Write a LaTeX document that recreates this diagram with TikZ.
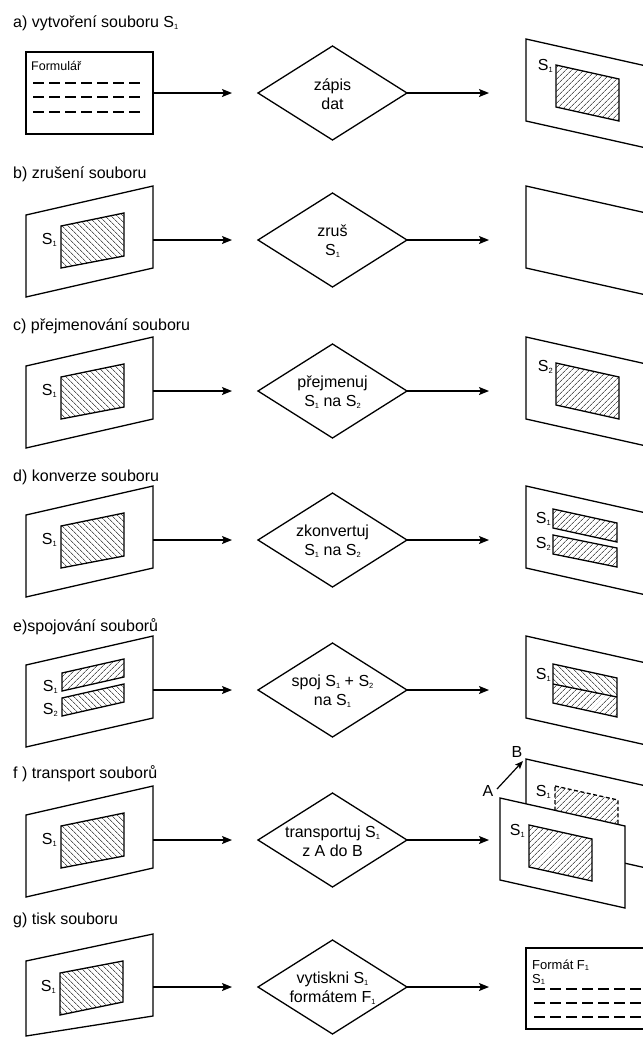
\documentclass[tikz,border=0pt]{standalone}
\usepackage{fontspec}
\setmainfont{Liberation Sans}
\usetikzlibrary{arrows.meta,patterns.meta}

% small subscript digit as used in S1, F1
\newcommand\sub[1]{\raisebox{-0.25ex}{\fontsize{7.5}{7.5}\selectfont #1}}

\tikzset{
  outline/.style={line width=1.3pt, line join=miter},
  flow/.style={line width=1.3pt, -{Stealth[length=10pt,width=8pt,inset=2pt]}},
  hatchR/.style={pattern={Lines[angle=45,distance=4pt,line width=0.6pt]}},
  hatchL/.style={pattern={Lines[angle=-45,distance=4pt,line width=0.6pt]}},
  title/.style={anchor=base west, font=\fontsize{16}{19}\selectfont, inner sep=0pt},
  dtext/.style={align=center, font=\fontsize{16}{19}\selectfont, inner sep=0pt},
  lab/.style={anchor=base east, font=\fontsize{16}{19}\selectfont, inner sep=0pt},
  small/.style={anchor=base west, font=\fontsize{13}{15}\selectfont, inner sep=0pt},
  formline/.style={line width=1.2pt, dash pattern=on 11pt off 5pt},
}

% tilted sheet on the left, rising to the right; #1 name, #2 row axis
\newcommand\leftsheet[2]{%
  \draw[outline,fill=white] (26,#2-25) -- (153,#2-54) -- (153,#2+28) -- (26,#2+57) -- cycle;
  \coordinate (#1) at (153,#2);}
% tilted sheet on the right, falling to the right; #1 left x, #2 top-left y
\newcommand\rightsheet[2]{%
  \draw[outline,fill=white] (#1,#2) -- ++(127,28.5) -- ++(0,82) -- ++(-127,-28.5) -- cycle;}
% decision diamond with two text lines; #1 name, #2 row axis, #3 text
\newcommand\decision[3]{%
  \draw[outline] (258,#2) coordinate (#1-w) -- (332.5,#2-47) -- (407,#2) coordinate (#1-e)
     -- (332.5,#2+47) -- cycle;
  \node[dtext] (#1) at (332.5,#2+1) {#3};}
% one row: diamond plus both connectors; #1 prefix, #2 row axis, #3 text
\newcommand\steprow[3]{%
  \decision{#1-op}{#2}{#3}
  \coordinate (#1-in) at (232,#2);
  \coordinate (#1-out) at (489,#2);
  \draw[flow] (#1-src) -- (#1-in);
  \draw[flow] (#1-op-e) -- (#1-out);}

\begin{document}
\begin{tikzpicture}[x=1pt,y=-1pt]
\useasboundingbox (0,0) rectangle (643,1037);
\fill[white] (0,0) rectangle (643,1037);
\clip (0,0) rectangle (643,1037);

% ---------- a) create file
\node[title] (ta) at (13,27) {a) vytvoření souboru S\sub{1}};
\draw[outline] (26,52) rectangle (153,134);
\coordinate (a-src) at (153,93);
\node[small, font=\fontsize{12.5}{15}\selectfont] (form) at (31,70) {Formulář};
\draw[formline] (33,83) -- (145,83);
\draw[formline] (33,97) -- (145,97);
\draw[formline] (33,112) -- (145,112);
\steprow{a}{93}{zápis\\dat}
\rightsheet{526}{39}
\draw[outline,hatchR] (556,65) -- (619,79) -- (619,121) -- (556,107) -- cycle;
\node[lab] (aS) at (553,70) {S\sub{1}};

% ---------- b) delete file
\node[title] (tb) at (13,178) {b) zrušení souboru};
\leftsheet{b-src}{240}
\draw[outline,hatchL] (61,226) -- (124,213) -- (124,256) -- (61,268) -- cycle;
\node[lab] (bS) at (57,244) {S\sub{1}};
\steprow{b}{240}{zruš\\S\sub{1}}
\rightsheet{526}{186}

% ---------- c) rename file
\node[title] (tc) at (13,330) {c) přejmenování souboru};
\leftsheet{c-src}{391}
\draw[outline,hatchL] (61,377) -- (124,364) -- (124,407) -- (61,419) -- cycle;
\node[lab] (cS) at (57,395) {S\sub{1}};
\steprow{c}{391}{přejmenuj\\S\sub{1} na S\sub{2}}
\rightsheet{526}{337}
\draw[outline,hatchR] (556,363) -- (619,377) -- (619,419) -- (556,405) -- cycle;
\node[lab] (cS2) at (553,371) {S\sub{2}};

% ---------- d) convert file
\node[title] (td) at (13,481) {d) konverze souboru};
\leftsheet{d-src}{540}
\draw[outline,hatchL] (61,526) -- (124,513) -- (124,556) -- (61,568) -- cycle;
\node[lab] (dS) at (57,544) {S\sub{1}};
\steprow{d}{540}{zkonvertuj\\S\sub{1} na S\sub{2}}
\rightsheet{526}{486}
\draw[outline,hatchR] (553,509) -- (617,523) -- (617,542) -- (553,528) -- cycle;
\draw[outline,hatchR] (553,535) -- (617,548) -- (617,567) -- (553,554) -- cycle;
\node[lab] (dS1) at (551,523) {S\sub{1}};
\node[lab] (dS2) at (551,548) {S\sub{2}};

% ---------- e) merge files
\node[title] (te) at (13,631) {e)spojování souborů};
\leftsheet{e-src}{690}
\draw[outline,hatchR] (62,673) -- (124,659) -- (124,677) -- (62,691) -- cycle;
\draw[outline,hatchL] (62,698) -- (124,684) -- (124,702) -- (62,716) -- cycle;
\node[lab] (eS1) at (58,691) {S\sub{1}};
\node[lab] (eS2) at (58,714) {S\sub{2}};
\steprow{e}{690}{spoj S\sub{1} + S\sub{2}\\na S\sub{1}}
\rightsheet{526}{636}
\fill[hatchL] (553,664) -- (617,678) -- (617,697) -- (553,684) -- cycle;
\fill[hatchR] (553,684) -- (617,697) -- (617,717) -- (553,703) -- cycle;
\draw[outline] (553,664) -- (617,678) -- (617,717) -- (553,703) -- cycle;
\draw[outline] (553,684) -- (617,697);
\node[lab] (eS) at (551,679) {S\sub{1}};

% ---------- f) transport files
\node[title] (tf) at (13,778) {f ) transport souborů};
\leftsheet{f-src}{840}
\draw[outline,hatchL] (61,826) -- (124,813) -- (124,856) -- (61,868) -- cycle;
\node[lab] (fS) at (57,844) {S\sub{1}};
\steprow{f}{840}{transportuj S\sub{1}\\z A do B}
% sheet at place B, behind
\rightsheet{526}{759}
\draw[outline,hatchR,dashed,dash pattern=on 4pt off 2.5pt] (555,786) -- (618,800) -- (618,842) -- (555,828) -- cycle;
\node[lab] (fSB) at (551,796) {S\sub{1}};
% sheet at place A, in front
\draw[outline,fill=white] (500,798) -- (625,826) -- (625,908) -- (500,880) -- cycle;
\draw[outline,hatchR] (529,825) -- (592,839) -- (592,881) -- (529,867) -- cycle;
\node[lab] (fSA) at (525,835) {S\sub{1}};
\node[font=\fontsize{16}{19}\selectfont, inner sep=0pt] (pA) at (488,791) {A};
\node[font=\fontsize{16}{19}\selectfont, inner sep=0pt] (pB) at (517,752) {B};
\coordinate (mvfrom) at (497,789);
\coordinate (mvto) at (523,761);
\draw[line width=1.2pt, -{Stealth[length=8pt,width=6.5pt,inset=1.5pt]}] (mvfrom) -- (mvto);

% ---------- g) print file
\node[title] (tg) at (13,924) {g) tisk souboru};
\draw[outline,fill=white] (26,961) -- (153,934) -- (153,1016) -- (26,1036) -- cycle;
\coordinate (g-src) at (153,987);
\draw[outline,hatchL] (60,973) -- (123,961) -- (123,1002) -- (60,1015) -- cycle;
\node[lab] (gS) at (56,991) {S\sub{1}};
\steprow{g}{987}{vytiskni S\sub{1}\\formátem F\sub{1}}
\draw[outline] (526,948) rectangle (660,1029);
\node[small] (gF) at (532,969) {Formát F\sub{1}};
\node[small] (gS1) at (532,983) {S\sub{1}};
\draw[formline] (534,989) -- (660,989);
\draw[formline] (534,1003) -- (660,1003);
\draw[formline] (534,1017) -- (660,1017);
\end{tikzpicture}
\end{document}
